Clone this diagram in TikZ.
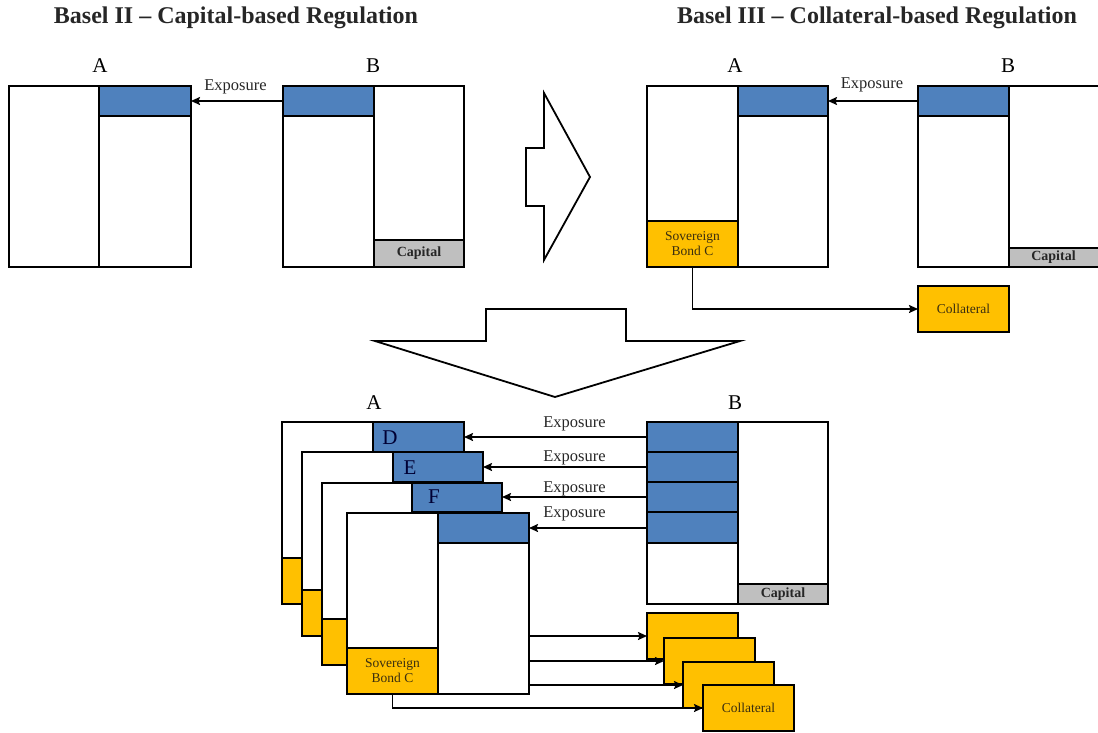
\documentclass[tikz,border=0pt]{standalone}
\usepackage{fontspec}
\setmainfont{Liberation Serif}
\usetikzlibrary{arrows.meta}
\definecolor{bblue}{HTML}{4F81BD}
\definecolor{byellow}{HTML}{FFC000}
\definecolor{bgrey}{HTML}{BFBFBF}
\definecolor{dtext}{HTML}{3A2E10}
\begin{document}
\begin{tikzpicture}[x=1pt,y=-1pt,
  cell/.style={draw, line width=2pt, fill=white, inner sep=0pt, outer sep=0pt, anchor=north west},
  bcell/.style={cell, fill=bblue},
  ycell/.style={cell, fill=byellow, align=center, text=dtext, font=\fontsize{13.5}{15}\selectfont},
  gcell/.style={cell, fill=bgrey, text=black!85, font=\bfseries\fontsize{14}{15}\selectfont},
  ttl/.style={font=\bfseries\fontsize{24}{26}\selectfont, anchor=base, text=black!85},
  lbl/.style={font=\fontsize{21}{22}\selectfont, anchor=base},
  exptxt/.style={font=\fontsize{16.5}{19}\selectfont, anchor=base, text=black!85},
  dlbl/.style={font=\fontsize{21}{22}\selectfont, anchor=base, text=black!80!blue},
  arr/.style={line width=1.6pt, -{Stealth[length=9pt,width=8pt,inset=1.5pt]}},
  hollow/.style={draw, line width=1.8pt, fill=white, line join=miter}
]
\useasboundingbox (0,0) rectangle (1098,732);

% titles
\node[ttl] (t1) at (236,23) {Basel II – Capital-based Regulation};
\node[ttl] (t2) at (877,23) {Basel III – Collateral-based Regulation};

% ---------- top left ----------
\node[lbl] (la1) at (100,72) {A};
\node[lbl] (lb1) at (373,72) {B};
\node[cell, minimum width=90pt, minimum height=181pt] (a1l) at (9,86) {};
\node[cell, minimum width=92pt, minimum height=181pt] (a1r) at (99,86) {};
\node[bcell, minimum width=92pt, minimum height=30pt] (a1b) at (99,86) {};
\node[cell, minimum width=91pt, minimum height=181pt] (b1l) at (283,86) {};
\node[cell, minimum width=90pt, minimum height=181pt] (b1r) at (374,86) {};
\node[bcell, minimum width=91pt, minimum height=30pt] (b1b) at (283,86) {};
\node[gcell, minimum width=90pt, minimum height=27pt] (b1c) at (374,240) {Capital};
\draw[arr] (b1b.west) -- (a1b.east);
\node[exptxt] (e1) at (235.5,90) {Exposure};

% ---------- arrow right ----------
\draw[hollow] (544,93) coordinate (h1) -- (590,177) -- (544,260) -- (544,206) -- (526,206) -- (526,148) -- (544,148) -- cycle;

% ---------- top right ----------
\node[lbl] (la2) at (735,72) {A};
\node[lbl] (lb2) at (1008,72) {B};
\node[cell, minimum width=91pt, minimum height=181pt] (a2l) at (647,86) {};
\node[cell, minimum width=90pt, minimum height=181pt] (a2r) at (738,86) {};
\node[bcell, minimum width=90pt, minimum height=30pt] (a2b) at (738,86) {};
\node[ycell, minimum width=91pt, minimum height=46pt] (a2y) at (647,221) {Sovereign\\Bond C};
\node[cell, minimum width=91pt, minimum height=181pt] (b2l) at (918,86) {};
\node[cell, minimum width=92pt, minimum height=181pt] (b2r) at (1009,86) {};
\node[bcell, minimum width=91pt, minimum height=30pt] (b2b) at (918,86) {};
\node[gcell, minimum width=92pt, minimum height=19pt] (b2c) at (1009,248) {\hspace*{-3pt}Capital};
\draw[arr] (b2b.west) -- (a2b.east);
\node[exptxt] (e2) at (872,88) {Exposure};
\node[ycell, minimum width=91pt, minimum height=46pt] (col2) at (918,286) {Collateral};
\draw[arr] (a2y.south) |- (col2.west);

% ---------- arrow down ----------
\draw[hollow] (486,309) coordinate (h2) -- (626,309) -- (626,341) -- (740,341) -- (555,397) -- (375,341) -- (486,341) -- cycle;

% ---------- bottom ----------
\node[lbl] (la3) at (374,409) {A};
\node[lbl] (lb3) at (735,409) {B};

% collateral boxes
\node[ycell, minimum width=91pt, minimum height=46pt] (c1) at (647,613) {};
\node[ycell, minimum width=91pt, minimum height=46pt] (c2) at (664,638) {};
\node[ycell, minimum width=91pt, minimum height=46pt] (c3) at (683,662) {};
\node[ycell, minimum width=91pt, minimum height=46pt] (c4) at (703,685) {Collateral};

% stacked A boxes
\node[cell, minimum width=91pt, minimum height=182pt] (s1l) at (282,422) {};
\node[cell, minimum width=91pt, minimum height=182pt] (s1r) at (373,422) {};
\node[bcell, minimum width=91pt, minimum height=30pt] (s1b) at (373,422) {};
\node[ycell, minimum width=91pt, minimum height=46pt] (s1y) at (282,558) {};

\node[cell, minimum width=91pt, minimum height=184pt] (s2l) at (302,452) {};
\node[cell, minimum width=90pt, minimum height=184pt] (s2r) at (393,452) {};
\node[bcell, minimum width=90pt, minimum height=30pt] (s2b) at (393,452) {};
\node[ycell, minimum width=91pt, minimum height=46pt] (s2y) at (302,590) {};

\node[cell, minimum width=90pt, minimum height=182pt] (s3l) at (322,483) {};
\node[cell, minimum width=90pt, minimum height=182pt] (s3r) at (412,483) {};
\node[bcell, minimum width=90pt, minimum height=29pt] (s3b) at (412,483) {};
\node[ycell, minimum width=90pt, minimum height=46pt] (s3y) at (322,619) {};

\node[cell, minimum width=91pt, minimum height=181pt] (s4l) at (347,513) {};
\node[cell, minimum width=91pt, minimum height=181pt] (s4r) at (438,513) {};
\node[bcell, minimum width=91pt, minimum height=30pt] (s4b) at (438,513) {};
\node[ycell, minimum width=91pt, minimum height=46pt] (s4y) at (347,648) {Sovereign\\Bond C};

\node[dlbl] (ld) at (390,444) {D};
\node[dlbl] (le) at (410,474) {E};
\node[dlbl] (lf) at (434,503) {F};

% bottom B
\node[cell, minimum width=91pt, minimum height=182pt] (b3l) at (647,422) {};
\node[cell, minimum width=90pt, minimum height=182pt] (b3r) at (738,422) {};
\node[bcell, minimum width=91pt, minimum height=30pt] (b3s1) at (647,422) {};
\node[bcell, minimum width=91pt, minimum height=30pt] (b3s2) at (647,452) {};
\node[bcell, minimum width=91pt, minimum height=30pt] (b3s3) at (647,482) {};
\node[bcell, minimum width=91pt, minimum height=31pt] (b3s4) at (647,512) {};
\node[gcell, minimum width=90pt, minimum height=20pt] (b3c) at (738,584) {Capital};

\draw[arr] (b3s1.west) -- (s1b.east |- b3s1.west);
\draw[arr] (b3s2.west) -- (s2b.east |- b3s2.west);
\draw[arr] (b3s3.west) -- (s3b.east |- b3s3.west);
\draw[arr] (b3s4.west |- s4b.east) -- (s4b.east);
\node[exptxt] (e3) at (574.5,427) {Exposure};
\node[exptxt] (e4) at (574.5,461) {Exposure};
\node[exptxt] (e5) at (574.5,492) {Exposure};
\node[exptxt] (e6) at (574.5,517) {Exposure};

% connectors to collateral
\coordinate (o1) at (529,636);
\coordinate (o2) at (529,661);
\coordinate (o3) at (529,685);
\draw[arr] (o1) -- (c1.west |- o1);
\draw[arr] (o2) -- (c2.west |- o2);
\draw[arr] (o3) -- (c3.west |- o3);
\draw[arr] (s4y.south) |- (c4.west);
\end{tikzpicture}
\end{document}
